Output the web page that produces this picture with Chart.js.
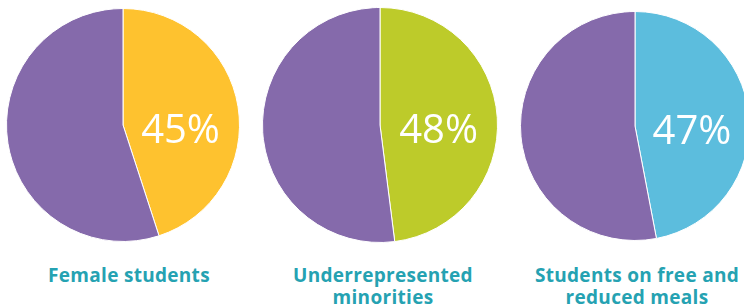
<!DOCTYPE html>
<html>
<head>
<meta charset="utf-8">
<script src="https://cdn.jsdelivr.net/npm/chart.js@4.4.1/dist/chart.umd.min.js"></script>
<style>
  html, body { margin: 0; padding: 0; background: #ffffff; overflow: hidden; }
  body { width: 744px; height: 308px; position: relative; }
  .pie { position: absolute; }
  .cap {
    position: absolute; width: 260px; text-align: center;
    font-family: "Open Sans", sans-serif; font-weight: 700;
    font-size: 19px; line-height: 22px; letter-spacing: 0.3px; color: #25a2b2;
    white-space: pre;
  }
</style>
</head>
<body>
<div class="pie" id="p0" style="left:6px; top:8px; width:234px; height:234px;"><canvas id="c0"></canvas></div>
<div class="pie" id="p1" style="left:262px; top:7px; width:236px; height:236px;"><canvas id="c1"></canvas></div>
<div class="pie" id="p2" style="left:520px; top:11px; width:230px; height:230px;"><canvas id="c2"></canvas></div>
<div class="cap" style="left:-1px; top:264px;" id="t0"></div>
<div class="cap" style="left:253px; top:264px;" id="t1"></div>
<div class="cap" style="left:507px; top:264px;" id="t2"></div>

<script>
// dados de cada gráfico
const categories = ['Female students', 'Underrepresented\nminorities', 'Students on free and\nreduced meals'];
const percentages = [45, 48, 47];
const highlightColors = ['#fec22f', '#bdcb2a', '#5cbddd'];
const restColor = '#856aab';

// escreve o percentual dentro da fatia colorida
const percentLabel = {
    id: 'percentLabel',
    afterDatasetsDraw(chart) {
        const arc = chart.getDatasetMeta(0).data[0];
        const pos = arc.tooltipPosition();
        const ctx = chart.ctx;
        ctx.save();
        ctx.fillStyle = '#ffffff';
        ctx.font = '400 40px "Open Sans", sans-serif';
        ctx.textAlign = 'center';
        ctx.textBaseline = 'middle';
        // um pouco abaixo do centro, como no original
        ctx.fillText(chart.data.datasets[0].data[0] + '%', pos.x, arc.y + 7);
        ctx.restore();
    }
};

categories.forEach((cat, i) => {
    document.getElementById('t' + i).textContent = cat;
    const ctx = document.getElementById('c' + i).getContext('2d');
    new Chart(ctx, {
        type: 'pie',
        data: {
            labels: [cat, 'Other'],
            datasets: [{
                data: [percentages[i], 100 - percentages[i]],
                backgroundColor: [highlightColors[i], restColor],
                borderColor: '#ffffff',
                borderWidth: 1
            }]
        },
        options: {
            responsive: true,
            maintainAspectRatio: false,
            animation: false,
            layout: { padding: 0 },
            plugins: {
                legend: { display: false },
                tooltip: { enabled: false }
            }
        },
        plugins: [percentLabel]
    });
});
</script>
</body>
</html>
